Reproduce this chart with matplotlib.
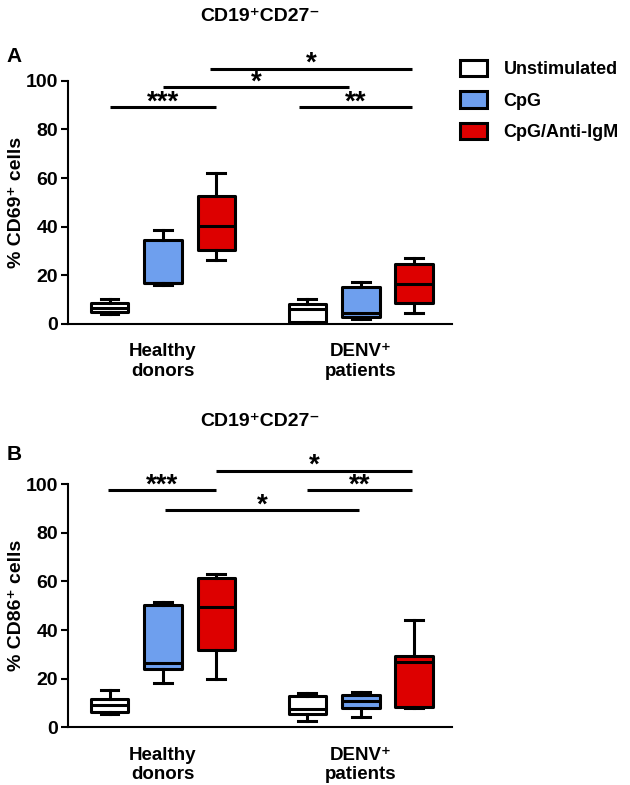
import matplotlib
matplotlib.use('Agg')
import matplotlib.pyplot as plt
from matplotlib.patches import Patch

plt.rcParams['font.family'] = ['Liberation Sans', 'DejaVu Sans']
plt.rcParams['font.weight'] = 'bold'

groups = ['Healthy\ndonors', 'DENV\u207a\npatients']
conditions = ['Unstimulated', 'CpG', 'CpG/Anti-IgM']
colors = ['white', '#6e9fee', '#dd0000']

# order: healthy (unstim, CpG, CpG/anti-IgM), DENV+ (unstim, CpG, CpG/anti-IgM)
cd69_low = [4.1, 16.0, 26.3, 0.5, 2.0, 4.4]
cd69_q1 = [5.0, 16.7, 30.5, 0.9, 3.0, 8.5]
cd69_med = [6.6, 17.0, 40.4, 6.2, 4.7, 16.5]
cd69_q3 = [8.6, 34.6, 52.7, 8.2, 15.3, 24.6]
cd69_high = [10.3, 38.7, 62.0, 10.3, 17.2, 27.0]

cd86_low = [5.5, 18.4, 19.7, 2.7, 4.4, 7.8]
cd86_q1 = [6.4, 23.9, 31.8, 5.5, 7.8, 8.5]
cd86_med = [9.2, 26.6, 49.6, 7.5, 11.0, 27.0]
cd86_q3 = [11.5, 50.3, 61.3, 12.9, 13.3, 29.3]
cd86_high = [15.3, 51.7, 63.0, 14.0, 14.7, 44.2]

# significance bars: (x start, x end, y, label)
cd69_sig = [(-0.27, 0.27, 89, '***'), (0.0, 0.94, 97.5, '*'),
            (0.24, 1.26, 105, '*'), (0.69, 1.26, 89, '**')]
cd86_sig = [(-0.28, 0.27, 97.7, '***'), (0.27, 1.26, 105.6, '*'),
            (0.73, 1.26, 97.7, '**'), (0.01, 0.99, 89.4, '*')]

title = 'CD19\u207aCD27\u207b'
offsets = [-0.27, 0.0, 0.27]
box_w = 0.19


def draw_panel(ax, low, q1, med, q3, high, sig, ylabel, title_y, letter):
    stats = []
    positions = []
    for i in range(6):
        stats.append({'whislo': low[i], 'q1': q1[i], 'med': med[i],
                      'q3': q3[i], 'whishi': high[i], 'fliers': []})
        positions.append(i // 3 + offsets[i % 3])
    bp = ax.bxp(stats, positions=positions, widths=box_w, patch_artist=True,
                showfliers=False, capwidths=0.09,
                boxprops=dict(linewidth=2.2, edgecolor='black'),
                medianprops=dict(color='black', linewidth=2.2),
                whiskerprops=dict(color='black', linewidth=2.2),
                capprops=dict(color='black', linewidth=2.2))
    for i, box in enumerate(bp['boxes']):
        box.set_facecolor(colors[i % 3])
        box.set_joinstyle('round')

    ax.set_xlim(-0.48, 1.46)
    ax.set_ylim(0, 100)
    ax.set_yticks([0, 20, 40, 60, 80, 100])
    ax.set_xticks([0, 1])
    ax.set_xticklabels(groups, fontsize=13.5, fontweight='bold')
    ax.tick_params(axis='x', length=0, pad=14)
    ax.tick_params(axis='y', labelsize=14, width=1.5, length=5, pad=2)
    for lab in ax.get_yticklabels():
        lab.set_fontweight('bold')
    ax.spines['top'].set_visible(False)
    ax.spines['right'].set_visible(False)
    ax.spines['left'].set_linewidth(1.5)
    ax.spines['bottom'].set_linewidth(1.5)
    ax.set_ylabel(ylabel, fontsize=14, fontweight='bold')
    ax.yaxis.set_label_coords(-0.112, 0.5)

    for x0, x1, y, label in sig:
        ax.plot([x0, x1], [y, y], color='black', linewidth=2.2,
                clip_on=False, solid_capstyle='butt')
        ax.text((x0 + x1) / 2, y - 1.0, label, ha='center', va='baseline',
                fontsize=20, fontweight='bold', clip_on=False)

    ax.text(0.5, title_y, title, transform=ax.transAxes, ha='center',
            fontsize=14, fontweight='bold')
    ax.text(letter[1], letter[2], letter[0], transform=ax.transAxes,
            fontsize=15, fontweight='bold')


fig = plt.figure(figsize=(6.3, 7.85), dpi=100)
ax_a = fig.add_axes([0.108, 0.5873, 0.609, 0.3099])
ax_b = fig.add_axes([0.108, 0.0735, 0.609, 0.3096])

draw_panel(ax_a, cd69_low, cd69_q1, cd69_med, cd69_q3, cd69_high, cd69_sig,
           '% CD69\u207a cells', 1.245, ('A', -0.16, 1.075))
draw_panel(ax_b, cd86_low, cd86_q1, cd86_med, cd86_q3, cd86_high, cd86_sig,
           '% CD86\u207a cells', 1.24, ('B', -0.16, 1.1))

handles = [Patch(facecolor=c, edgecolor='black', linewidth=2.2) for c in colors]
fig.legend(handles, conditions, loc='upper left', bbox_to_anchor=(0.705, 0.944),
           frameon=False, handlelength=1.5, handleheight=1.0,
           labelspacing=0.72, handletextpad=0.9,
           prop={'weight': 'bold', 'size': 13})

fig.savefig('out.png', dpi=100)
